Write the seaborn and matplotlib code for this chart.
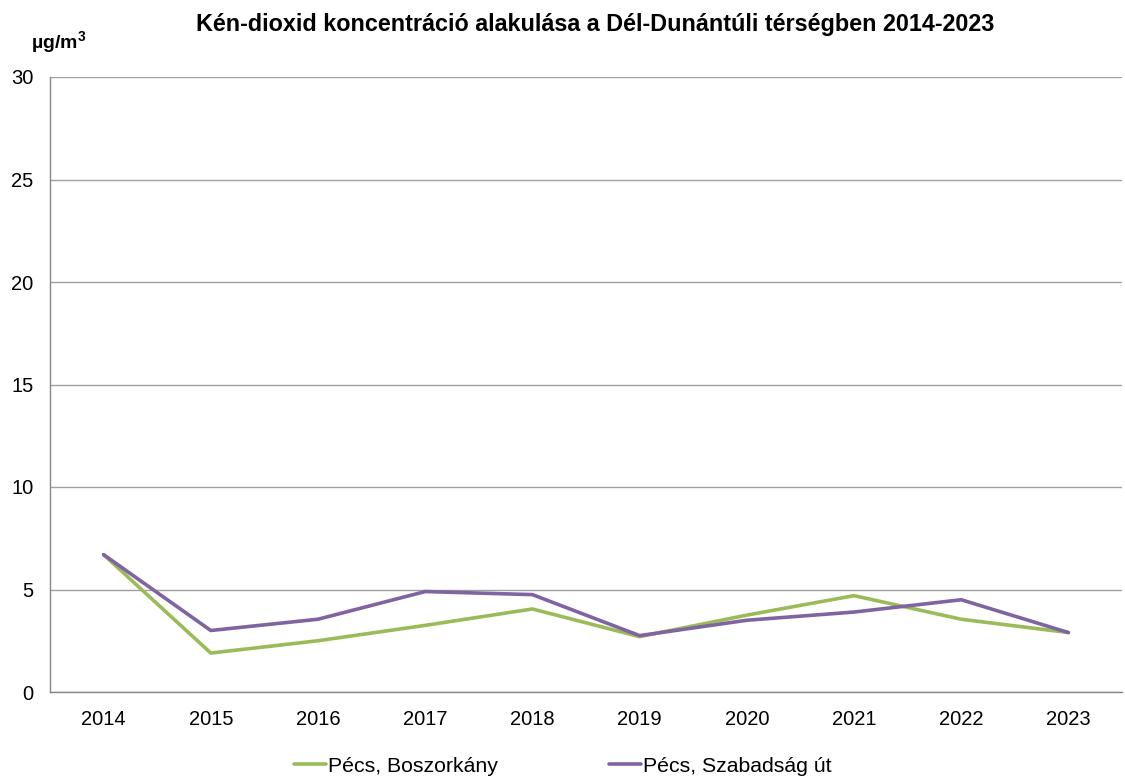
import matplotlib
matplotlib.use("Agg")
import matplotlib.pyplot as plt
import seaborn as sns
import pandas as pd
import numpy as np

years = ["2014", "2015", "2016", "2017", "2018", "2019", "2020", "2021", "2022", "2023"]
boszorkany = [6.7, 1.9, 2.5, 3.25, 4.05, 2.7, 3.75, 4.7, 3.55, 2.9]
szabadsag = [6.7, 3.0, 3.55, 4.9, 4.75, 2.75, 3.5, 3.9, 4.5, 2.9]
series_names = ["Pécs, Boszorkány", "Pécs, Szabadság út"]
colors = ["#9BBB59", "#8064A2"]
title = "Kén-dioxid koncentráció alakulása a Dél-Dunántúli térségben 2014-2023"
unit = r"µg/m$^{\mathbf{3}}$"
yticks = [0, 5, 10, 15, 20, 25, 30]

sns.set_theme(style="white")
plt.rcParams["font.family"] = ["Liberation Sans", "DejaVu Sans"]
plt.rcParams["mathtext.fontset"] = "custom"
plt.rcParams["mathtext.rm"] = "Liberation Sans"
plt.rcParams["mathtext.bf"] = "Liberation Sans:bold"
plt.rcParams["text.color"] = "black"
plt.rcParams["xtick.color"] = "black"
plt.rcParams["ytick.color"] = "black"

df = pd.DataFrame({
    "year": years * 2,
    "x": list(range(len(years))) * 2,
    "value": boszorkany + szabadsag,
    "series": [series_names[0]] * len(years) + [series_names[1]] * len(years),
})

fig = plt.figure(figsize=(11.25, 7.78), dpi=100)
ax = fig.add_axes([50 / 1125, 1 - 692 / 778, (1122 - 50) / 1125, (692 - 77) / 778])

sns.lineplot(data=df, x="x", y="value", hue="series", palette=colors,
             linewidth=2.6, ax=ax, legend=True)

ax.set_xlim(-0.5, len(years) - 0.5)
ax.set_ylim(0, 30)
ax.set_yticks(yticks)
ax.set_yticklabels([str(t) for t in yticks], fontsize=14.5)
ax.set_xticks(range(len(years)))
ax.set_xticklabels(years, fontsize=14.5)
ax.set_xticks(np.arange(-0.5, len(years), 1.0), minor=True)
ax.tick_params(axis="x", which="major", length=0, pad=13, labelcolor="black")
ax.tick_params(axis="x", which="minor", length=5, color="#878787", width=1, direction="out")
ax.tick_params(axis="y", which="major", length=5, color="#878787", width=1, direction="out", pad=7,
               labelcolor="black")
ax.yaxis.grid(True, color="#A0A0A0", linewidth=1)
ax.set_axisbelow(True)
ax.set_xlabel("")
ax.set_ylabel("")
for s in ["top", "right"]:
    ax.spines[s].set_visible(False)
for s in ["left", "bottom"]:
    ax.spines[s].set_color("#878787")
    ax.spines[s].set_linewidth(1)

fig.text(595 / 1125, 1 - 24 / 778, title, ha="center", va="center", fontsize=16.8,
         fontweight="bold", color="black")
fig.text(31 / 1125, 1 - 43 / 778, unit, ha="left", va="center", fontsize=14,
         fontweight="bold", color="black")

handles, labels = ax.get_legend_handles_labels()
ax.legend(handles, labels, loc="center", bbox_to_anchor=(563 / 1125, 1 - 766 / 778),
          bbox_transform=fig.transFigure, ncol=2, frameon=False, fontsize=15.3,
          handlelength=1.5, handletextpad=0.12, columnspacing=5.2)

fig.savefig("out.png", dpi=100)
